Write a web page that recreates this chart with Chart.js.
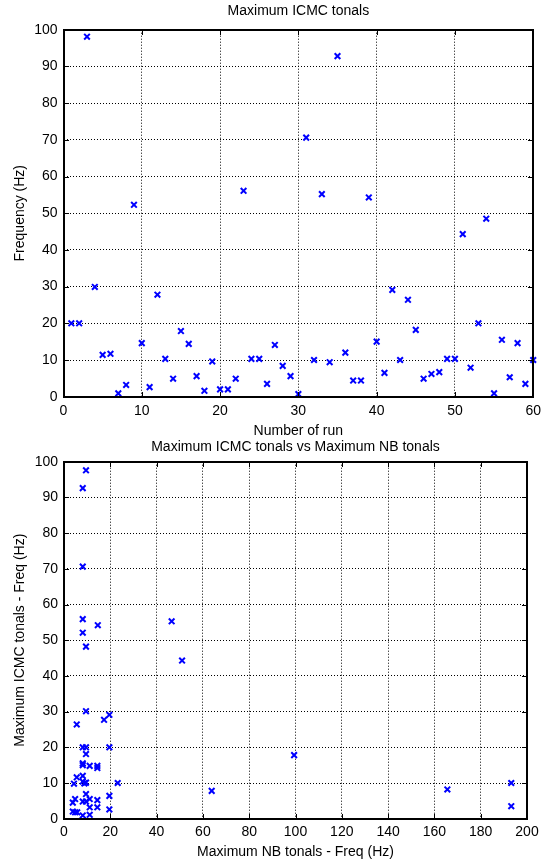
<!DOCTYPE html>
<html><head><meta charset="utf-8">
<script src="https://cdn.jsdelivr.net/npm/chart.js@4/dist/chart.umd.min.js"></script>
<style>
html,body{margin:0;padding:0;background:#fff;width:547px;height:861px;overflow:hidden}
#c1{position:absolute;left:0;top:0}
#c2{position:absolute;left:0;top:428px}
</style></head><body>
<canvas id="c1" width="547" height="440"></canvas>
<canvas id="c2" width="547" height="433"></canvas>
<script>
// ---- Top chart data: Maximum ICMC tonals per run ----
const runNumbers = [1,2,3,4,5,6,7,8,9,10,11,12,13,14,15,16,17,18,19,20,21,22,23,24,25,26,27,28,29,30,
  31,32,33,34,35,36,37,38,39,40,41,42,43,44,45,46,47,48,49,50,51,52,53,54,55,56,57,58,59,60];
const icmcFreq = [20.0,20.0,98.1,29.9,11.4,11.7,0.9,3.2,52.3,14.6,2.6,27.8,10.3,4.9,17.9,14.4,5.6,1.6,9.6,2.0,
  2.0,4.9,56.1,10.3,10.3,3.5,14.1,8.4,5.6,0.7,70.6,10.0,55.2,9.4,92.8,12.0,4.4,4.4,54.3,15.0,
  6.5,29.1,10.0,26.4,18.2,4.9,6.2,6.7,10.3,10.3,44.3,7.9,20.0,48.5,0.9,15.5,5.3,14.6,3.5,10.0];

// ---- Bottom chart data: Maximum ICMC tonals vs Maximum NB tonals ----
const nbFreq = [9.5,8.1,8.1,8.1,14.6,8.1,46.5,51,99.4,63.8,165.6,193.2,193.2,9.5,9.5,19.6,17.3,5.5,8.1,9.5,
  19.6,9.5,8.1,8.1,11.1,14.4,14.4,5.5,8.1,4.3,8.1,8.8,9.5,23.2,9.5,19.6,4.8,11.1,14.4,3.8,
  8.1,9.5,11.1,14.4,19.6,3.8,4.8,5.7,8.1,11.1];
const icmcFreqB = [97.6,92.6,70.6,55.9,54.2,52.1,55.3,44.3,17.8,7.8,8.2,10.0,3.5,48.2,30.1,29.1,27.7,26.4,20.0,20.0,
  20.0,18.1,15.5,15.0,14.8,14.8,14.2,11.6,12.0,9.8,10.4,9.9,10.1,10.0,6.9,6.4,5.5,5.5,5.2,4.5,
  4.8,4.8,3.2,3.2,2.6,2.0,1.8,1.8,0.9,1.1];

// ---- Axis ticks / titles ----
const topXTicks = [0,10,20,30,40,50,60];
const bottomXTicks = [0,20,40,60,80,100,120,140,160,180,200];
const yTicks = [0,10,20,30,40,50,60,70,80,90,100];
const topTitle = 'Maximum ICMC tonals';
const topXTitle = 'Number of run';
const topYTitle = 'Frequency (Hz)';
const bottomTitle = 'Maximum ICMC tonals vs Maximum NB tonals';
const bottomXTitle = 'Maximum NB tonals - Freq (Hz)';
const bottomYTitle = 'Maximum ICMC tonals - Freq (Hz)';

const FONT = {family: '"Liberation Sans", Arial, sans-serif', size: 14};
const MARKER = '#0000ff';

const boxPlugin = {
  id: 'matlabBox',
  afterDraw(chart) {
    const {ctx, chartArea: {left, right, top, bottom}, scales: {x, y}} = chart;
    const L = Math.round(left), R = Math.round(right);
    const T = Math.round(top), B = Math.round(bottom);
    ctx.save();
    ctx.setLineDash([]);
    ctx.strokeStyle = '#000';
    ctx.lineWidth = 2;
    ctx.strokeRect(L, T, R - L, B - T);
    ctx.lineWidth = 1;
    ctx.beginPath();
    x.ticks.forEach(t => {
      const px = Math.round(x.getPixelForValue(t.value)) + 0.5;
      ctx.moveTo(px, B); ctx.lineTo(px, B - 5);
      ctx.moveTo(px, T); ctx.lineTo(px, T + 5);
    });
    y.ticks.forEach(t => {
      const py = Math.round(y.getPixelForValue(t.value)) + 0.5;
      ctx.moveTo(L, py); ctx.lineTo(L + 5, py);
      ctx.moveTo(R, py); ctx.lineTo(R - 5, py);
    });
    ctx.stroke();
    ctx.restore();
  }
};

function makeChart(id, cfg) {
  const pts = cfg.xs.map((v, i) => ({x: v, y: cfg.ys[i]}));
  const xMin = cfg.xTicks[0], xMax = cfg.xTicks[cfg.xTicks.length - 1];
  return new Chart(document.getElementById(id), {
    type: 'scatter',
    data: {datasets: [{
      data: pts,
      pointStyle: 'crossRot',
      pointRadius: 4,
      pointBorderWidth: 2,
      borderColor: MARKER,
      backgroundColor: MARKER,
      clip: false
    }]},
    options: {
      responsive: false,
      animation: false,
      events: [],
      layout: {padding: {left: 0, right: cfg.padRight, top: 0, bottom: 0}},
      plugins: {legend: {display: false}, tooltip: {enabled: false}, title: {display: false}},
      scales: {
        x: {
          type: 'linear', min: xMin, max: xMax,
          afterBuildTicks: s => { s.ticks = cfg.xTicks.map(v => ({value: v})); },
          afterFit: s => { s.height = cfg.xHeight; },
          ticks: {color: '#000', font: FONT, padding: cfg.xTickPad, maxRotation: 0, autoSkip: false},
          grid: {color: '#000', lineWidth: 1, drawTicks: false},
          border: {display: false, dash: [1, 2]},
          title: {display: true, text: cfg.xTitle, color: '#000', font: FONT, padding: {top: 0, bottom: cfg.xTitleBottom}}
        },
        xTop: {
          type: 'linear', position: 'top', min: xMin, max: xMax,
          afterFit: s => { s.height = cfg.topHeight; },
          ticks: {display: false},
          grid: {display: false, drawTicks: false},
          border: {display: false},
          title: {display: true, text: cfg.title, color: '#000', font: FONT, padding: {top: cfg.titleTop, bottom: 0}}
        },
        y: {
          type: 'linear', min: 0, max: 100,
          afterBuildTicks: s => { s.ticks = yTicks.map(v => ({value: v})); },
          afterFit: s => { s.width = cfg.yWidth; },
          ticks: {color: '#000', font: FONT, padding: 6},
          grid: {color: '#000', lineWidth: 1, drawTicks: false},
          border: {display: false, dash: [1, 2]},
          title: {display: true, text: cfg.yTitle, color: '#000', font: FONT, padding: {top: 11.6, bottom: 0}}
        }
      }
    },
    plugins: [boxPlugin]
  });
}

makeChart('c1', {
  xs: runNumbers, ys: icmcFreq, xTicks: topXTicks,
  title: topTitle, xTitle: topXTitle, yTitle: topYTitle,
  padRight: 13, topHeight: 29.7, titleTop: 2.6,
  xHeight: 43.3, xTickPad: 6, xTitleBottom: 0.6, yWidth: 63.5
});
makeChart('c2', {
  xs: nbFreq, ys: icmcFreqB, xTicks: bottomXTicks,
  title: bottomTitle, xTitle: bottomXTitle, yTitle: bottomYTitle,
  padRight: 20, topHeight: 33.7, titleTop: 10.6,
  xHeight: 42.3, xTickPad: 5, xTitleBottom: 0, yWidth: 64
});
</script>
</body></html>
